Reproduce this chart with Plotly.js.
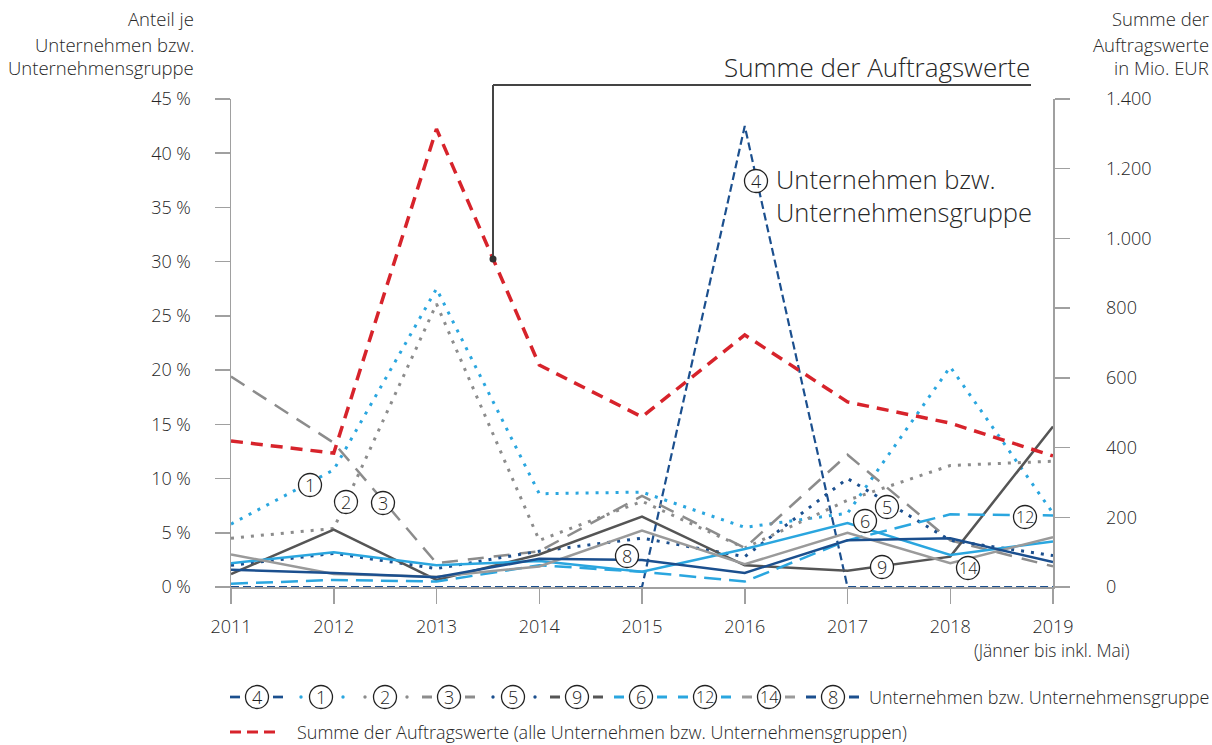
<!DOCTYPE html>
<html><head><meta charset="utf-8">
<script src="https://cdn.plot.ly/plotly-3.0.1.min.js"></script>
<style>html,body{margin:0;padding:0;background:#fff}#chart{width:1212px;height:745px}</style>
</head><body><div id="chart"></div>
<script>
// ---- data ----
const years = [2011, 2012, 2013, 2014, 2015, 2016, 2017, 2018, 2019];
const yearLabels = ['2011','2012','2013','2014','2015','2016','2017','2018','2019'];
const s4  = [0, 0, 0, 0, 0, 42.5, 0, 0, 0];
const s1  = [5.8, 10.8, 27.5, 8.6, 8.75, 5.5, 6.8, 20.3, 6.8];
const s2  = [4.5, 5.4, 26.1, 4.3, 7.9, 3.6, 8.0, 11.2, 11.6];
const s3  = [19.4, 13.3, 2.2, 3.3, 8.4, 3.6, 12.2, 4.3, 1.9];
const s5  = [2.0, 3.1, 1.7, 3.3, 4.5, 2.8, 10.0, 4.3, 2.9];
const s9  = [1.2, 5.3, 0.65, 3.0, 6.5, 2.0, 1.5, 2.8, 14.8];
const s6  = [2.2, 3.2, 2.0, 2.4, 1.4, 3.5, 5.9, 2.95, 4.2];
const s12 = [0.3, 0.65, 0.5, 2.0, 1.4, 0.5, 4.3, 6.7, 6.6];
const s14 = [3.0, 1.2, 0.95, 1.9, 5.2, 2.1, 5.0, 2.2, 4.6];
const s8  = [1.6, 1.3, 0.9, 2.6, 2.5, 1.3, 4.3, 4.5, 2.3];
const summe = [419, 384, 1314, 637, 488, 723, 531, 470, 376];
const leftTickVals = [0, 5, 10, 15, 20, 25, 30, 35, 40, 45];
const leftTickText = ['0 %','5 %','10 %','15 %','20 %','25 %','30 %','35 %','40 %','45 %'];
const rightTickVals = [0, 200, 400, 600, 800, 1000, 1200, 1400];
const rightTickText = ['0','200','400','600','800','1.000','1.200','1.400'];

// ---- styles ----
const DBLUE = '#1b4f8e', LBLUE = '#2aa6df', GRAY = '#8c8c8c', DGRAY = '#555555', MGRAY = '#9a9a9a', RED = '#d7232b';
const DOT = '3px,7px';
const series = [
  {id:'4',  y:s4,  color:DBLUE, width:2.2, dash:'8px,4px', kind:'dash'},
  {id:'1',  y:s1,  color:LBLUE, width:3,   dash:DOT, kind:'dot'},
  {id:'2',  y:s2,  color:GRAY,  width:3,   dash:DOT, kind:'dot'},
  {id:'3',  y:s3,  color:GRAY,  width:2.5, dash:'16px,10px', kind:'dash'},
  {id:'5',  y:s5,  color:DBLUE, width:3,   dash:DOT, kind:'dot'},
  {id:'9',  y:s9,  color:DGRAY, width:2.5, dash:'solid', kind:'solid'},
  {id:'6',  y:s6,  color:LBLUE, width:2.5, dash:'solid', kind:'solid'},
  {id:'12', y:s12, color:LBLUE, width:2.5, dash:'17px,8px', kind:'dash'},
  {id:'14', y:s14, color:MGRAY, width:2.5, dash:'solid', kind:'solid'},
  {id:'8',  y:s8,  color:DBLUE, width:2.5, dash:'solid', kind:'solid'}
];

const traces = series.map(s => ({
  x: years, y: s.y, type:'scatter', mode:'lines', name: s.id,
  line:{color:s.color, width:s.width, dash:s.dash}, showlegend:false, hoverinfo:'skip'
}));
traces.push({x: years, y: summe, yaxis:'y2', type:'scatter', mode:'lines', name:'Summe',
  line:{color:RED, width:3.5, dash:'12px,8px'}, showlegend:false, hoverinfo:'skip'});

// ---- geometry helpers (pixel -> paper) ----
const W = 1212, H = 745, L = 231, R = 1053, T = 99, B = 587;
const px = v => (v - L) / (R - L);
const py = v => (B - v) / (B - T);
const FONT = 'Open Sans, sans-serif';
const TXT = '#262626';

const shapes = [];
const annotations = [];
function circleLabel(cx, cy, t, r) {
  r = r || 11.5;
  shapes.push({type:'circle', xref:'paper', yref:'paper', xsizemode:'pixel', ysizemode:'pixel',
    xanchor:px(cx), yanchor:py(cy), x0:-r, x1:r, y0:-r, y1:r,
    line:{color:'#222', width:1.3}, fillcolor:'#ffffff', layer:'above'});
  annotations.push({xref:'paper', yref:'paper', x:px(cx), y:py(cy), text:t, showarrow:false,
    xanchor:'center', yanchor:'middle', font:{family:FONT, size:t.length > 1 ? 16 : 18, color:'#1e1e1e', weight:300}});
}
function text(x, y, t, anchor, size, align) {
  annotations.push({xref:'paper', yref:'paper', x:px(x), y:py(y), text:t, showarrow:false, align:align || anchor,
    xanchor:anchor, yanchor:'middle', font:{family:FONT, size:size, color:TXT, weight:300}});
}

// in-plot circled labels
[['1',310,485],['2',346,502],['3',383,503],['8',627,556],['6',865,521],['5',887,507],
 ['9',882,567],['14',968,568],['12',1025,517]].forEach(a => circleLabel(a[1], a[2], a[0]));

// annotation: 4 Unternehmen bzw. Unternehmensgruppe
circleLabel(756, 181, '4');
text(774, 195, 'Unternehmen bzw.<br>Unternehmensgruppe', 'left', 25.5);

// annotation: Summe der Auftragswerte with leader
text(1032, 67, 'Summe der Auftragswerte', 'right', 26);
shapes.push({type:'line', xref:'paper', yref:'paper', x0:px(493), x1:px(1031), y0:py(85), y1:py(85), line:{color:'#444', width:2}});
shapes.push({type:'line', xref:'paper', yref:'paper', x0:px(493), x1:px(493), y0:py(85), y1:py(259), line:{color:'#444', width:2}});
shapes.push({type:'circle', xref:'paper', yref:'paper', xsizemode:'pixel', ysizemode:'pixel',
  xanchor:px(493), yanchor:py(259), x0:-3.5, x1:3.5, y0:-3.5, y1:3.5, line:{color:'#333', width:0}, fillcolor:'#333'});

// axis titles
text(196, 18, 'Anteil je', 'right', 18.5);
text(196, 44, 'Unternehmen bzw.', 'right', 18.5);
text(196, 68, 'Unternehmensgruppe', 'right', 18.5);
text(1211, 18, 'Summe der', 'right', 18.5);
text(1211, 44, 'Auftragswerte', 'right', 18.5);
text(1211, 68, 'in Mio. EUR', 'right', 18.5);
text(1052, 650, '(Jänner bis inkl. Mai)', 'center', 17.5);

// custom legend
const LY = 697;
series.forEach((s, i) => {
  const c = 257 + 64 * i;
  if (s.kind === 'dot') {
    [c - 20, c + 22].forEach(dx => shapes.push({type:'circle', xref:'paper', yref:'paper', xsizemode:'pixel', ysizemode:'pixel',
      xanchor:px(dx), yanchor:py(LY), x0:-1.7, x1:1.7, y0:-1.7, y1:1.7, line:{width:0}, fillcolor:s.color}));
  } else {
    [[c - 27, c - 17], [c + 16, c + 26]].forEach(seg => shapes.push({type:'line', xref:'paper', yref:'paper',
      x0:px(seg[0]), x1:px(seg[1]), y0:py(LY), y1:py(LY), line:{color:s.color, width:s.width + 0.5}}));
  }
  circleLabel(c, LY, s.id);
});
text(867, LY, 'Unternehmen bzw. Unternehmensgruppe', 'left', 18);
shapes.push({type:'line', xref:'paper', yref:'paper', x0:px(230), x1:px(276), y0:py(732), y1:py(732),
  line:{color:RED, width:3, dash:'11px,6px'}});
text(295, 732, 'Summe der Auftragswerte (alle Unternehmen bzw. Unternehmensgruppen)', 'left', 18);

const axisCommon = {showgrid:false, zeroline:false, showline:true, linecolor:'#a0a0a0', linewidth:1.5,
  ticks:'outside', tickcolor:'#a0a0a0', tickwidth:1.5, ticklen:15, tickfont:{family:FONT, size:18, color:TXT, weight:300}};

const layout = {
  width:W, height:H, autosize:false,
  margin:{l:L, r:W - R, t:T, b:H - B, autoexpand:false},
  paper_bgcolor:'#fff', plot_bgcolor:'#fff',
  showlegend:false,
  xaxis: Object.assign({}, axisCommon, {range:[2011, 2019], tickvals:years, ticktext:yearLabels, ticklabelstandoff:8}),
  yaxis: Object.assign({}, axisCommon, {range:[0, 45], tickvals:leftTickVals, ticktext:leftTickText, ticklabelstandoff:20}),
  yaxis2: Object.assign({}, axisCommon, {range:[0, 1400], overlaying:'y', side:'right', tickvals:rightTickVals, ticktext:rightTickText, ticklabelstandoff:33}),
  shapes: shapes,
  annotations: annotations
};

Plotly.newPlot('chart', traces, layout, {staticPlot:true, displayModeBar:false});
</script></body></html>
